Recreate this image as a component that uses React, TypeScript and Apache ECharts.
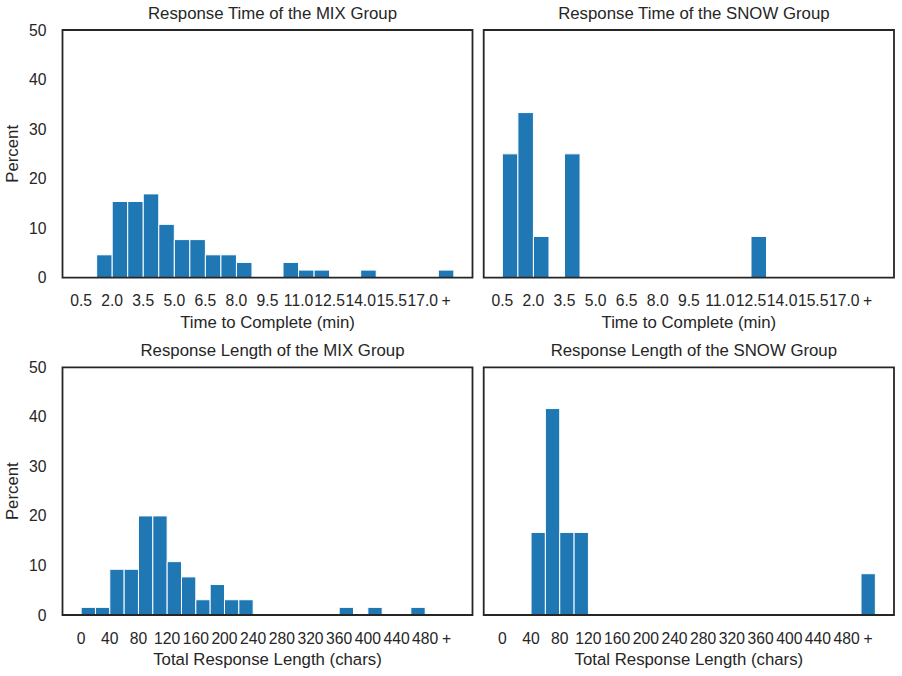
import React, { useEffect, useRef } from "react";
import * as echarts from "echarts";

// Histogram bins (percent of respondents per bin)
const timeBinStart = 0.5;
const timeBinWidth = 0.75;
const lengthBinStart = 0;
const lengthBinWidth = 20;

const mixTimePct = [0, 4.62, 15.38, 15.38, 16.92, 10.77, 7.69, 7.69, 4.62, 4.62, 3.08, 0, 0, 3.08, 1.54, 1.54, 0, 0, 1.54, 0, 0, 0, 0, 1.54];
const snowTimePct = [25, 33.33, 8.33, 0, 25, 0, 0, 0, 0, 0, 0, 0, 0, 0, 0, 0, 8.33, 0, 0, 0, 0, 0, 0, 0];
const mixLengthPct = [1.54, 1.54, 9.23, 9.23, 20, 20, 10.77, 7.69, 3.08, 6.15, 3.08, 3.08, 0, 0, 0, 0, 0, 0, 1.54, 0, 1.54, 0, 0, 1.54, 0, 0];
const snowLengthPct = [0, 0, 16.67, 41.67, 16.67, 16.67, 0, 0, 0, 0, 0, 0, 0, 0, 0, 0, 0, 0, 0, 0, 0, 0, 0, 0, 0, 8.33];

// Tick positions and labels
const timeTickValues = [0.5, 2.0, 3.5, 5.0, 6.5, 8.0, 9.5, 11.0, 12.5, 14.0, 15.5, 17.0, 18.125];
const timeTickLabels = ["0.5", "2.0", "3.5", "5.0", "6.5", "8.0", "9.5", "11.0", "12.5", "14.0", "15.5", "17.0", "+"];
const lengthTickValues = [0, 40, 80, 120, 160, 200, 240, 280, 320, 360, 400, 440, 480, 510];
const lengthTickLabels = ["0", "40", "80", "120", "160", "200", "240", "280", "320", "360", "400", "440", "480", "+"];

const titles = [
  "Response Time of the MIX Group",
  "Response Time of the SNOW Group",
  "Response Length of the MIX Group",
  "Response Length of the SNOW Group",
];

const FONT = "'Liberation Sans', Arial, sans-serif";
const INK = "#262626";
const BAR = "#1f77b4";
const LABEL_SIZE = 16.8;
const TICK_SIZE = 15.7;

function toBins(pct: number[], start: number, width: number) {
  return pct
    .map((v, i) => [start + i * width, start + (i + 1) * width, v])
    .filter((d) => d[2] > 0);
}

export default function App() {
  const ref = useRef<HTMLDivElement>(null);

  useEffect(() => {
    if (!ref.current) return;
    const chart = echarts.init(ref.current, null, { renderer: "svg" });

    const grids = [
      { left: 62.5, top: 30, width: 410, height: 247.7 },
      { left: 483.7, top: 30, width: 410.3, height: 247.7 },
      { left: 62.5, top: 367.3, width: 410, height: 247.7 },
      { left: 483.7, top: 367.3, width: 410.3, height: 247.7 },
    ];

    const panels = [
      { pct: mixTimePct, start: timeBinStart, width: timeBinWidth, kind: "time" },
      { pct: snowTimePct, start: timeBinStart, width: timeBinWidth, kind: "time" },
      { pct: mixLengthPct, start: lengthBinStart, width: lengthBinWidth, kind: "length" },
      { pct: snowLengthPct, start: lengthBinStart, width: lengthBinWidth, kind: "length" },
    ];

    const xAxes = panels.map((p, i) => {
      const isTime = p.kind === "time";
      const values = isTime ? timeTickValues : lengthTickValues;
      const labels = isTime ? timeTickLabels : lengthTickLabels;
      return {
        type: "value",
        gridIndex: i,
        min: isTime ? -0.4 : -26,
        max: isTime ? 19.4 : 546,
        name: isTime ? "Time to Complete (min)" : "Total Response Length (chars)",
        nameLocation: "middle",
        nameGap: 36,
        nameTextStyle: { fontFamily: FONT, fontSize: LABEL_SIZE, color: INK },
        axisLine: { show: false },
        axisTick: { show: false },
        splitLine: { show: false },
        axisLabel: {
          customValues: values,
          formatter: (v: number) => labels[values.indexOf(v)] ?? "",
          fontFamily: FONT,
          fontSize: TICK_SIZE,
          color: INK,
          margin: 15,
        },
      };
    });

    const yAxes = panels.map((_, i) => {
      const left = i % 2 === 0;
      return {
        type: "value",
        gridIndex: i,
        min: 0,
        max: 50,
        interval: 10,
        name: left ? "Percent" : "",
        nameLocation: "middle",
        nameGap: 42,
        nameTextStyle: { fontFamily: FONT, fontSize: LABEL_SIZE, color: INK },
        axisLine: { show: false },
        axisTick: { show: false },
        splitLine: { show: false },
        axisLabel: {
          show: left,
          fontFamily: FONT,
          fontSize: TICK_SIZE,
          color: INK,
          margin: 16,
        },
      };
    });

    const series = panels.map((p, i) => ({
      type: "custom",
      xAxisIndex: i,
      yAxisIndex: i,
      encode: { x: [0, 1], y: 2 },
      data: toBins(p.pct, p.start, p.width),
      renderItem: (_params: any, api: any) => {
        const a = api.coord([api.value(0), api.value(2)]);
        const b = api.coord([api.value(1), 0]);
        return {
          type: "rect",
          shape: { x: a[0], y: a[1], width: b[0] - a[0], height: b[1] - a[1] },
          style: { fill: BAR, stroke: "#ffffff", lineWidth: 1 },
        };
      },
    }));

    chart.setOption({
      animation: false,
      backgroundColor: "#ffffff",
      title: grids.map((g, i) => ({
        text: titles[i],
        left: g.left + g.width / 2,
        top: g.top - 30,
        textAlign: "center",
        textStyle: { fontFamily: FONT, fontSize: LABEL_SIZE, fontWeight: "normal", color: INK },
      })),
      grid: grids.map((g) => ({
        ...g,
        show: true,
        z: 5,
        backgroundColor: "transparent",
        borderColor: INK,
        borderWidth: 1.8,
      })),
      xAxis: xAxes,
      yAxis: yAxes,
      series,
    });

    return () => chart.dispose();
  }, []);

  return (
    <div
      ref={ref}
      style={{ position: "fixed", left: 0, top: 0, width: 902, height: 676, background: "#fff" }}
    />
  );
}
